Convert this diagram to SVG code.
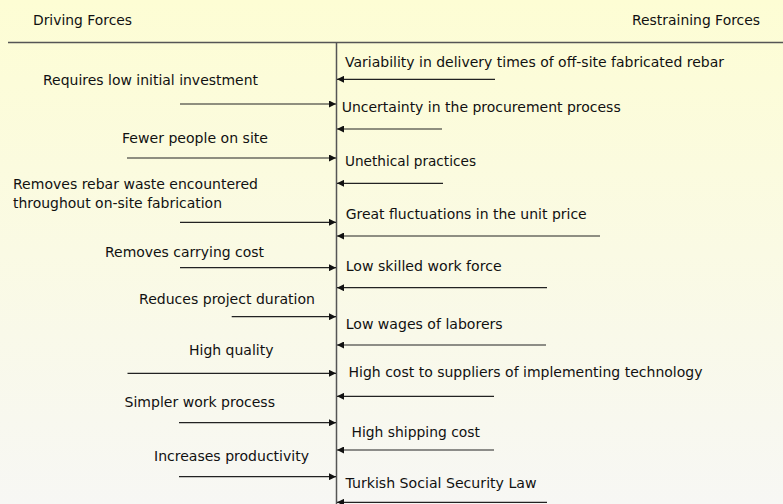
<svg xmlns="http://www.w3.org/2000/svg" width="783" height="504" viewBox="0 0 783 504">
<defs>
<linearGradient id="bg" x1="0" y1="0" x2="0" y2="1">
<stop offset="0" stop-color="#FDFDD4"/>
<stop offset="1" stop-color="#F7F7F4"/>
</linearGradient>
<marker id="ah" markerUnits="userSpaceOnUse" markerWidth="7" markerHeight="7" refX="7" refY="3.5" orient="auto">
<path d="M0,0 L7,3.5 L0,7 z" fill="#111"/>
</marker>
<style>
text{font-family:"DejaVu Sans","Liberation Sans",sans-serif;font-size:14px;fill:#111}
.arr{stroke:#222;stroke-width:1.2;fill:none;marker-end:url(#ah)}
.axis{stroke:#555;stroke-width:1.5;fill:none}
</style>
</defs>
<rect x="0" y="0" width="783" height="504" fill="url(#bg)"/>
<g id="headers">
<text x="33" y="25" textLength="99" lengthAdjust="spacingAndGlyphs">Driving Forces</text>
<text x="632" y="25" textLength="128" lengthAdjust="spacingAndGlyphs">Restraining Forces</text>
</g>
<g id="axes">
<line class="axis" x1="8" y1="42.5" x2="783" y2="42.5"/>
<line class="axis" x1="336.5" y1="42.5" x2="336.5" y2="504"/>
</g>
<g id="driving">
<g id="d1"><text x="43" y="85" textLength="215" lengthAdjust="spacingAndGlyphs">Requires low initial investment</text></g>
<g id="d2"><text x="122" y="142.7" textLength="146" lengthAdjust="spacingAndGlyphs">Fewer people on site</text></g>
<g id="d3"><text x="13" y="189.3" textLength="245" lengthAdjust="spacingAndGlyphs">Removes rebar waste encountered</text><text x="13" y="208.3" textLength="209" lengthAdjust="spacingAndGlyphs">throughout on-site fabrication</text></g>
<g id="d4"><text x="105" y="256.7" textLength="159" lengthAdjust="spacingAndGlyphs">Removes carrying cost</text></g>
<g id="d5"><text x="139" y="304.3" textLength="176" lengthAdjust="spacingAndGlyphs">Reduces project duration</text></g>
<g id="d6"><text x="189" y="355" textLength="84.5" lengthAdjust="spacingAndGlyphs">High quality</text></g>
<g id="d7"><text x="124.5" y="406.7" textLength="150.5" lengthAdjust="spacingAndGlyphs">Simpler work process</text></g>
<g id="d8"><text x="154" y="461" textLength="155" lengthAdjust="spacingAndGlyphs">Increases productivity</text></g>
</g>
<g id="restraining">
<g id="r1"><text x="345" y="66.7" textLength="379" lengthAdjust="spacingAndGlyphs">Variability in delivery times of off-site fabricated rebar</text></g>
<g id="r2"><text x="341.7" y="112.3" textLength="279" lengthAdjust="spacingAndGlyphs">Uncertainty in the procurement process</text></g>
<g id="r3"><text x="345" y="165.7" textLength="131" lengthAdjust="spacingAndGlyphs">Unethical practices</text></g>
<g id="r4"><text x="345.7" y="219" textLength="241" lengthAdjust="spacingAndGlyphs">Great fluctuations in the unit price</text></g>
<g id="r5"><text x="345.7" y="271" textLength="156" lengthAdjust="spacingAndGlyphs">Low skilled work force</text></g>
<g id="r6"><text x="345.7" y="329" textLength="157" lengthAdjust="spacingAndGlyphs">Low wages of laborers</text></g>
<g id="r7"><text x="348.5" y="377.3" textLength="354" lengthAdjust="spacingAndGlyphs">High cost to suppliers of implementing technology</text></g>
<g id="r8"><text x="351.5" y="437.3" textLength="128.5" lengthAdjust="spacingAndGlyphs">High shipping cost</text></g>
<g id="r9"><text x="345.5" y="487.7" textLength="191" lengthAdjust="spacingAndGlyphs">Turkish Social Security Law</text></g>
</g>
<g id="connectors">
<line class="arr" x1="180" y1="104" x2="336" y2="104"/>
<line class="arr" x1="127" y1="158" x2="336" y2="158"/>
<line class="arr" x1="180" y1="222.3" x2="336" y2="222.3"/>
<line class="arr" x1="180" y1="267.7" x2="336" y2="267.7"/>
<line class="arr" x1="231.7" y1="316.7" x2="336" y2="316.7"/>
<line class="arr" x1="127.5" y1="373.3" x2="336" y2="373.3"/>
<line class="arr" x1="179" y1="422.7" x2="336" y2="422.7"/>
<line class="arr" x1="179" y1="476.7" x2="336" y2="476.7"/>
<line class="arr" x1="495" y1="79.3" x2="337" y2="79.3"/>
<line class="arr" x1="442" y1="129" x2="337" y2="129"/>
<line class="arr" x1="443" y1="183.3" x2="337" y2="183.3"/>
<line class="arr" x1="600" y1="236" x2="337" y2="236"/>
<line class="arr" x1="547" y1="287.7" x2="337" y2="287.7"/>
<line class="arr" x1="546" y1="345" x2="337" y2="345"/>
<line class="arr" x1="494" y1="396.3" x2="337" y2="396.3"/>
<line class="arr" x1="494" y1="450" x2="337" y2="450"/>
<line class="arr" x1="547" y1="502.3" x2="337" y2="502.3"/>
</g>
</svg>
